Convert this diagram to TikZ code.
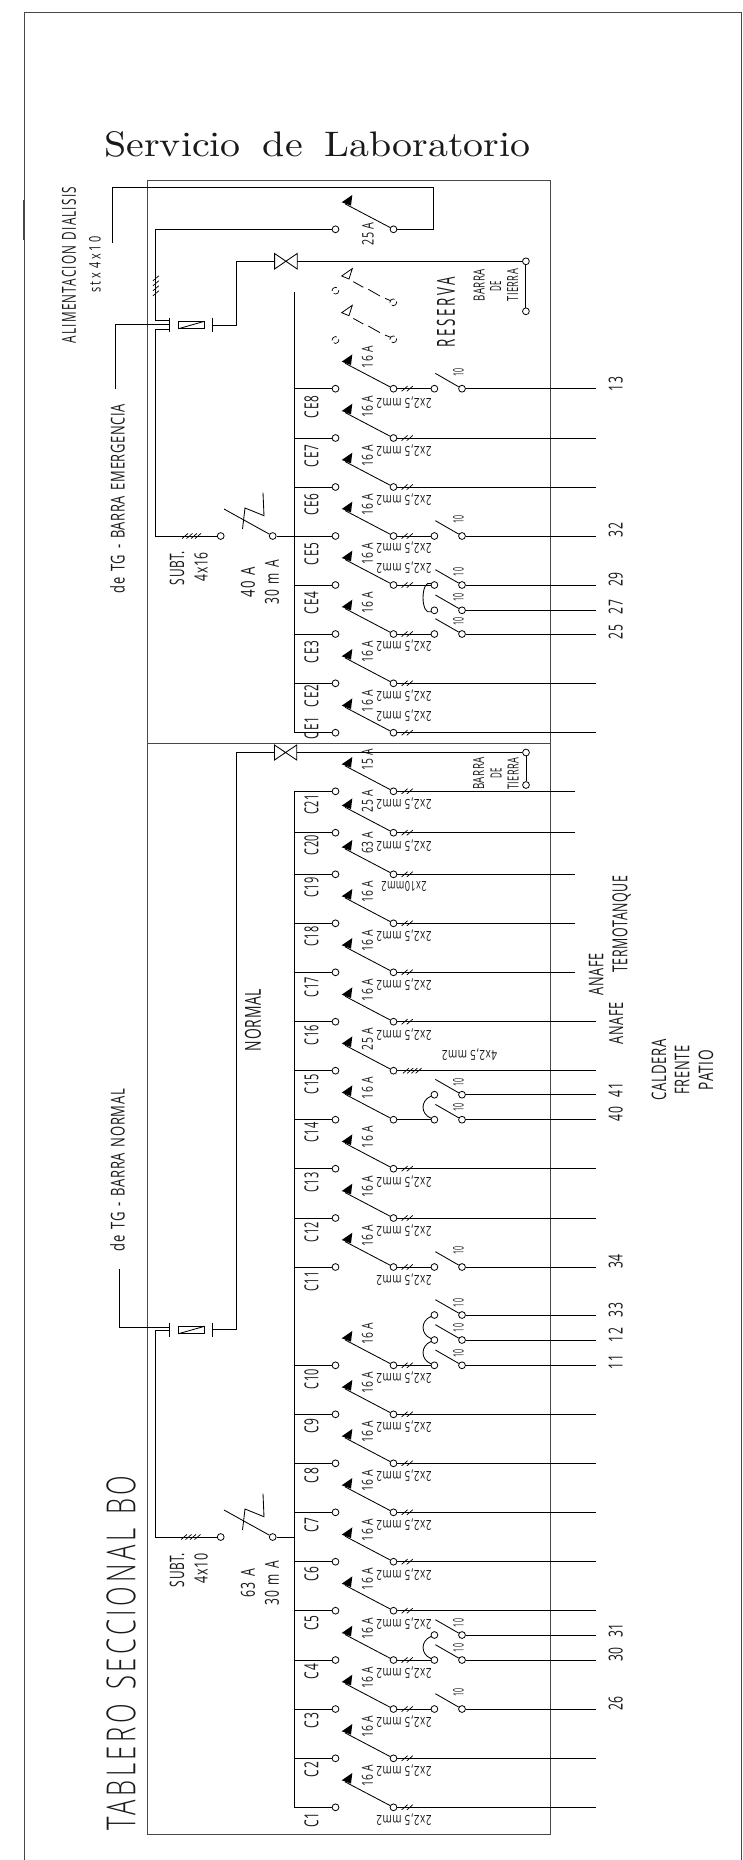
\documentclass[tikz,border=0pt]{standalone}
\usepackage{fontspec}
\usepackage{graphicx}
\usetikzlibrary{calc}
\newfontfamily\cad[LetterSpace=5]{Open Sans}
\newfontfamily\cadl[LetterSpace=14]{Open Sans Light}
\newcommand\gp{\hspace{.45em}}
\tikzset{
  wire/.style={line width=0.85pt,black},
  framex/.style={line width=1pt,black!72},
  term/.style={circle,draw=black,line width=0.8pt,fill=white,inner sep=0pt,minimum size=6.8pt},
  txt/.style={inner sep=0pt,outer sep=0pt,text=black!90,font=\cad},
}
\newcounter{lb}
% x y length height rotation text
\newcommand\lab[6]{\stepcounter{lb}\node[txt,rotate=#5] (lab\arabic{lb}) at (#1,#2) {\resizebox{#3pt}{#4pt}{#6}};}
% ticks on a horizontal wire: y, list of x
\newcommand\tk[2]{\foreach \tx in {#2}{\draw[wire,line width=0.7pt] ({\tx-3},{#1+2.6}) -- ({\tx+3},{#1-2.6});}}
\newcommand\brk[3]{%
  \node[term] (L#1) at (335.5,#2) {};
  \node[term] (R#1) at (393.5,#2) {};
  \coordinate (B#1) at (294.2,#2);
  \coordinate (A#1) at (345,{#2-25.5});
  \draw[wire] (B#1) -- (L#1);
  \draw[wire] (R#1) -- (A#1);
  \fill[black] (341.7,{#2-27}) -- (352.3,{#2-34.3}) -- (351,{#2-23.7}) -- cycle;
  \lab{367.5}{#2-31.5}{22}{11}{90}{#3}
}
% run to end of line with two ticks
\newcommand\run[3]{\coordinate (E#1) at (#3,#2); \draw[wire] (R#1) -- (E#1); \tk{#2}{404.6,409.8}}
% switch with label 10 : [label offset] id y
\newcommand\swt[3][12]{%
  \node[term] (S#2) at (434.4,#3) {};
  \node[term] (T#2) at (462,#3) {};
  \coordinate (G#2) at (435.4,{#3-15.3});
  \coordinate (E#2) at (595.5,#3);
  \draw[wire] (T#2) -- (G#2);
  \draw[wire] (T#2) -- (E#2);
  \lab{458.5}{#3-#1}{8.5}{10.5}{90}{10}
}
\newcommand\bridge[2]{\draw[wire] (S#1) .. controls ($(S#1)+(-14,-6)$) and ($(S#2)+(-14,6)$) .. (S#2);}
\newcommand\cab[2]{\lab{404}{#1}{55}{10}{180}{#2}}
% residual breaker: id y
\newcommand\rcd[2]{%
  \node[term] (P#1) at (220.7,#2) {};
  \node[term] (Q#1) at (272.7,#2) {};
  \coordinate (Z#1) at (294.2,#2);
  \coordinate (Y#1) at (224,{#2-27});
  \draw[wire] (Q#1) -- (Z#1);
  \draw[wire] (Q#1) -- (Y#1);
  \draw[wire] (242.5,{#2-7}) -- (245,{#2-28}) -- (264,{#2-20.3}) -- (263,{#2-43.3});
}
% contactor coil: y
\newcommand\coil[1]{%
  \draw[wire] (169.5,{#1-7.3}) -- (169.5,{#1+7.3});
  \draw[wire] (212.3,{#1-7.3}) -- (212.3,{#1+7.3});
  \draw[wire] (178.5,{#1-3.7}) rectangle (204.5,{#1+3.7});
  \draw[wire] (178.5,{#1+3.7}) -- (204.5,{#1-3.7});
}
\begin{document}
\begin{tikzpicture}[x=1pt,y=-1pt]
\useasboundingbox (0,0) rectangle (742,1860);
\fill[white] (0,0) rectangle (742,1860);
% outer sheet
\draw[framex] (24.2,1860) -- (24.2,12.7) -- (741,12.7) -- (741,1860);
\draw[framex,line width=1.5pt] (24.2,200) -- (24.2,240);
% board frame
\draw[framex] (147.3,180) rectangle (550.5,1834.7);
\draw[framex] (147.3,743.3) -- (550.5,743.3);
% titles
\lab{317.5}{144}{426}{25}{0}{\rmfamily\addfontfeature{LetterSpace=5}Servicio\hspace{.55em}de\hspace{.55em}Laboratorio}
\lab{121}{1653}{355}{29}{90}{\cadl TABLERO\hspace{.55em}SECCIONAL\hspace{.55em}BO}
\lab{69}{265}{156}{14}{90}{\addfontfeature{LetterSpace=10}ALIMENTACION\gp DIALISIS}
\lab{95}{264.7}{56}{11.5}{90}{\addfontfeature{LetterSpace=22}stx\gp 4x10}
\lab{446}{312}{70.5}{18}{90}{\addfontfeature{LetterSpace=20}RESERVA}
\lab{479}{285.3}{32.5}{11}{90}{BARRA}
\lab{495.5}{286.3}{10.5}{11}{90}{DE}
\lab{512.5}{285.3}{32.5}{11}{90}{TIERRA}
\lab{368}{233.7}{23}{11.5}{90}{25 A}
\lab{117.5}{498.6}{189}{14.5}{90}{de\gp TG\gp -\gp BARRA\gp EMERGENCIA}
\lab{117.5}{1170}{162}{14.5}{90}{de\gp TG\gp -\gp BARRA\gp NORMAL}
\lab{177}{568}{34}{14.4}{90}{SUBT.}
\lab{201}{567}{29}{13.2}{90}{4x16}
\lab{248}{582}{30}{14}{90}{40\gp A}
\lab{272}{582}{44}{14}{90}{30\gp m\gp A}
\lab{177}{1570}{34}{14.4}{90}{SUBT.}
\lab{201}{1568}{30}{13.2}{90}{4x10}
\lab{248}{1583}{28}{14}{90}{63\gp A}
\lab{272}{1583}{44}{14}{90}{30\gp m\gp A}
\lab{253}{1020}{62}{16}{90}{NORMAL}
\lab{596}{974}{42}{14.5}{90}{ANAFE}
\lab{621.7}{924}{97}{15}{90}{TERMOTANQUE}
\lab{616}{1023}{42}{14}{90}{ANAFE}
\lab{659}{1070}{61}{14.5}{90}{CALDERA}
\lab{682}{1070}{49}{14.5}{90}{FRENTE}
\lab{706}{1070}{40}{14.5}{90}{PATIO}
% circuit numbers
\foreach \n/\y in {13/384,32/530,29/579.7,27/607,25/632,41/1090,40/1114,34/1261.5,33/1310,12/1335,11/1362,31/1630.5,30/1654.7,26/1703.5}
  {\lab{615.7}{\y}{14.5}{14}{90}{\n}}
% board labels
\foreach \t/\y in {CE8/407,CE7/456,CE6/504.5,CE5/554,CE4/603,CE3/652,CE2/696,CE1/728}
  {\lab{311.5}{\y}{22}{14}{90}{\t}}
\foreach \t/\y in {C21/804.5,C20/845,C19/887.5,C18/936.5,C17/987,C16/1035,C15/1084,C14/1132.5,C13/1182.5,C12/1232,C11/1281.5,C10/1379}
  {\lab{311.5}{\y}{20.5}{14}{90}{\t}}
\foreach \t/\y in {C9/1426,C8/1475.5,C7/1525,C6/1574,C5/1623,C4/1671.5,C3/1720.5,C2/1769.5,C1/1820}
  {\lab{311.5}{\y}{15}{14}{90}{\t}}
% bus bars
\coordinate (busA) at (294.2,292);
\coordinate (busB) at (294.2,732.7);
\draw[wire] (busA) -- (busB);
\coordinate (busC) at (294.2,791.3);
\coordinate (busD) at (294.2,1807.3);
\draw[wire] (busC) -- (busD);
% emergency rows
\foreach \id/\y/\r in {E8/388.7/16 A,E7/438/16 A,E6/487/16 A,E5/536/16 A,E4/585/16 A,E3/634/16 A,E2/683.3/16 A,E1/732.7/16 A}
  {\brk{\id}{\y}{\r}}
\foreach \id/\y in {E7/438,E6/487,E2/683.3,E1/732.7} {\run{\id}{\y}{595.5}}
\foreach \id/\y/\o in {E8/388.7/16.5,E5/536/16.5,E4/585/13,E3/634/12.5}
  {\swt[\o]{\id}{\y}\draw[wire] (R\id) -- (S\id); \tk{\y}{404.6,409.8}}
\swt[13]{E4b}{610.3}
\bridge{E4}{E4b}
\foreach \y in {402.5,451,499.7,548,568,646,696,716} {\cab{\y}{2x2,5 mm2}}
% 25 A breaker to dialysis
\node[term] (Ld) at (335.5,229.3) {};
\node[term] (Rd) at (393.5,229.3) {};
\coordinate (Ad) at (345,203.8);
\draw[wire] (Rd) -- (Ad);
\fill[black] (341.7,202.3) -- (352.3,195) -- (351,205.6) -- cycle;
\coordinate (d1) at (433,229.3);
\coordinate (d2) at (433,187.7);
\coordinate (d3) at (112,187.7);
\coordinate (d4) at (112,242.7);
\draw[wire] (Rd) -- (d1) -- (d2) -- (d3) -- (d4);
\coordinate (d5) at (155.9,229.3);
\coordinate (d6) at (155.9,320.7);
\coordinate (d7) at (169.5,320.7);
\draw[wire] (Ld) -- (d5) -- (d6) -- (d7);
\foreach \ty in {278.3,283.3,288.3,293.3} {\draw[wire,line width=0.7pt] (152.9,{\ty+2.6}) -- (158.9,{\ty-2.6});}
% emergency contactor
\coil{325}
\coordinate (f1) at (115.2,389.3);
\coordinate (f2) at (115.2,324.3);
\coordinate (f3) at (169.5,324.3);
\draw[wire] (f1) -- (f2) -- (f3);
\rcd{A}{536}
\coordinate (g1) at (169.5,329.3);
\coordinate (g2) at (155.9,329.3);
\coordinate (g3) at (155.9,536);
\draw[wire] (g1) -- (g2) -- (g3) -- (PA);
\tk{536}{185,189.5,194,198}
% earth bar, emergency
\node[term] (ba) at (525.9,261.3) {};
\node[term] (bb) at (525.9,311.3) {};
\coordinate (h1) at (212.3,325);
\coordinate (h2) at (236.3,325);
\coordinate (h3) at (236.3,261.3);
\coordinate (h4) at (274.6,261.3);
\coordinate (h5) at (297.2,261.3);
\draw[wire] (h1) -- (h2) -- (h3) -- (h4);
\draw[wire] (h5) -- (ba) -- (bb);
\draw[wire] (274.6,253.5) -- (297.2,269) -- (297.2,253.5) -- (274.6,269) -- cycle;
% spare breakers (dashed)
\foreach \ya/\yb/\yc in {290.7/302.3/276,340/339.3/312.7}{
  \draw[wire,line width=0.7pt,dash pattern=on 7pt off 3pt] (335.5,\ya) circle (3.4);
  \draw[wire,line width=0.7pt,dash pattern=on 7pt off 3pt] (393.3,\yb) circle (3.4);
  \draw[wire,line width=0.8pt] (341.7,\yc) -- (352.3,{\yc-7.4}) -- (349,{\yc+3}) -- cycle;
  \draw[wire,line width=0.8pt] (353.3,{\yc+5.7}) -- (363.3,{\yc+11.3});
  \draw[wire,line width=0.8pt] (368.3,{\yc+13.3}) -- (380,{\yc+20});
  \draw[wire,line width=0.8pt] (385,{\yc+22.3}) -- (390.7,{\yc+24.7});
}
% normal rows
\foreach \id/\y/\r in {N21/791.3/15 A,N20/832.7/25 A,N19/874.3/63 A,N18/923.3/16 A,N17/972.3/16 A,N16/1021.7/16 A,N15/1070.7/25 A,N14/1119.7/16 A,N13/1168.7/16 A,N12/1218/16 A,N11/1267/16 A,N10/1365.3/16 A,N9/1414.3/16 A,N8/1463.3/16 A,N7/1512.3/16 A,N6/1561.7/16 A,N5/1610.7/16 A,N4/1660/16 A,N3/1709/16 A,N2/1758.3/16 A,N1/1807.3/16 A}
  {\brk{\id}{\y}{\r}}
\foreach \id/\y in {N21/791.3,N20/832.7,N19/874.3,N18/923.3,N17/972.3} {\run{\id}{\y}{575.3}}
\foreach \id/\y in {N16/1021.7,N13/1168.7,N12/1218,N9/1414.3,N8/1463.3,N7/1512.3,N6/1561.7,N5/1610.7,N2/1758.3,N1/1807.3} {\run{\id}{\y}{595.5}}
\coordinate (EN15) at (595.5,1070.7);
\draw[wire] (RN15) -- (EN15);
\tk{1070.7}{406,410.2,414.4,418.6}
\foreach \id/\y/\o in {N11/1267/16.3,N10/1365.3/12,N4/1660/12,N3/1709/16.5}
  {\swt[\o]{\id}{\y}\draw[wire] (R\id) -- (S\id); \tk{\y}{404.6,409.8}}
\swt{N14}{1119.7}
\draw[wire] (RN14) -- (SN14);
\swt{N14b}{1094.7}
\bridge{N14}{N14b}
\swt{N10b}{1340}
\swt{N10c}{1315}
\bridge{N10}{N10b}
\bridge{N10b}{N10c}
\swt{N4b}{1635}
\bridge{N4}{N4b}
\foreach \y in {804,845.5,936,985,1034.4,1181.4,1230.7,1279.7,1378,1427,1476,1525,1574.4,1623.4,1672.7,1721.7,1771,1820} {\cab{\y}{2x2,5 mm2}}
\lab{404}{886.5}{45}{10}{180}{2x10mm2}
\lab{469.5}{1054.5}{55}{10}{180}{4x2,5 mm2}
% normal contactor and earth bar
\coil{1330}
\coordinate (n1) at (119.3,1269);
\coordinate (n2) at (119.3,1327);
\coordinate (n3) at (169.5,1327);
\draw[wire] (n1) -- (n2) -- (n3);
\rcd{B}{1537}
\coordinate (m1) at (169.5,1330.5);
\coordinate (m2) at (155.7,1330.5);
\coordinate (m3) at (155.7,1537);
\draw[wire] (m1) -- (m2) -- (m3) -- (PB);
\tk{1537}{184,188.5,193,197.5}
\node[term] (bc) at (526,752.5) {};
\node[term] (bd) at (526,785) {};
\coordinate (k1) at (212.3,1329.7);
\coordinate (k2) at (236.5,1329.7);
\coordinate (k3) at (236.5,752.5);
\coordinate (k4) at (274.5,752.5);
\coordinate (k5) at (296.7,752.5);
\draw[wire] (k1) -- (k2) -- (k3) -- (k4);
\draw[wire] (k5) -- (bc) -- (bd);
\draw[wire] (274.5,745) -- (296.7,760) -- (296.7,745) -- (274.5,760) -- cycle;
\lab{478.7}{773.5}{32.5}{11}{90}{BARRA}
\lab{496}{773.5}{10.5}{11}{90}{DE}
\lab{513}{773.5}{32.5}{11}{90}{TIERRA}
\end{tikzpicture}
\end{document}
